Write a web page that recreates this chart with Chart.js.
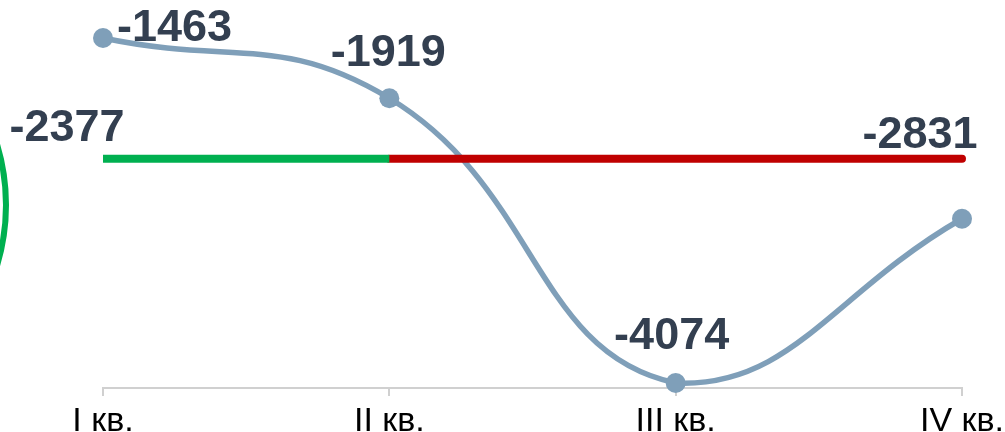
<!DOCTYPE html>
<html>
<head>
<meta charset="utf-8">
<script src="https://cdn.jsdelivr.net/npm/chart.js@4/dist/chart.umd.min.js"></script>
<style>
html,body{margin:0;padding:0;background:#fff;}
#wrap{position:relative;width:1005px;height:432px;}
</style>
</head>
<body>
<div id="wrap"><canvas id="c"></canvas></div>
<script>
const categories = ['I кв.', 'II кв.', 'III кв.', 'IV кв.'];
const quarterValues = [-1463, -1919, -4074, -2831];
const referenceValue = -2377;
const greenSegment = [referenceValue, referenceValue, null, null];
const redSegment = [null, referenceValue, referenceValue, referenceValue];
const yMin = -4112;
const yMax = -1251;

const labelColor = '#333f50';
const labelFont = 'bold 45px "Liberation Sans", Arial, sans-serif';

const decorPlugin = {
  id: 'decor',
  beforeDraw(chart) {
    const ctx = chart.ctx;
    ctx.save();
    ctx.fillStyle = '#fff';
    ctx.fillRect(0, 0, chart.width, chart.height);
    ctx.beginPath();
    ctx.arc(-203, 205, 209, -0.36, 0.36);
    ctx.strokeStyle = '#00b050';
    ctx.lineWidth = 6;
    ctx.stroke();
    ctx.restore();
  },
  afterDatasetsDraw(chart) {
    const ctx = chart.ctx;
    const main = chart.getDatasetMeta(2).data;
    const ref = chart.getDatasetMeta(1).data;
    ctx.save();
    ctx.font = labelFont;
    ctx.fillStyle = labelColor;
    ctx.textBaseline = 'middle';
    ctx.textAlign = 'left';
    ctx.fillText(String(quarterValues[0]), main[0].x + 14, main[0].y - 9);
    ctx.textAlign = 'center';
    ctx.fillText(String(quarterValues[1]), main[1].x - 1, main[1].y - 45);
    ctx.fillText(String(quarterValues[2]), main[2].x - 4, main[2].y - 46);
    ctx.fillText(String(quarterValues[3]), ref[3].x - 42, ref[3].y - 23);
    const g = chart.getDatasetMeta(0).data;
    ctx.fillText(String(referenceValue), g[0].x - 36, g[0].y - 30);
    ctx.restore();
  }
};

new Chart(document.getElementById('c'), {
  type: 'line',
  data: {
    labels: categories,
    datasets: [
      {
        data: greenSegment,
        borderColor: '#00b050',
        borderWidth: 8,
        pointRadius: 0,
        tension: 0,
        spanGaps: false
      },
      {
        data: redSegment,
        borderColor: '#c00000',
        borderWidth: 8,
        borderCapStyle: 'round',
        pointRadius: 0,
        tension: 0,
        spanGaps: false
      },
      {
        data: quarterValues,
        borderColor: '#7f9fb9',
        borderWidth: 5.5,
        pointRadius: 10,
        pointBackgroundColor: '#7f9fb9',
        pointBorderWidth: 0,
        tension: 0.45
      },
      {
        data: quarterValues,
        showLine: false,
        pointRadius: 3.5,
        pointBackgroundColor: '#5b9bd5',
        pointBorderWidth: 0
      }
    ]
  },
  options: {
    responsive: true,
    maintainAspectRatio: false,
    animation: false,
    clip: false,
    layout: { padding: { left: 103, right: 43, top: 0, bottom: 0 } },
    plugins: { legend: { display: false }, tooltip: { enabled: false } },
    scales: {
      x: {
        offset: false,
        afterFit(scale) { scale.height = 44; scale.paddingLeft = 0; scale.paddingRight = 0; },
        border: { display: true, color: '#d0d0d0', width: 2 },
        grid: { display: true, drawOnChartArea: false, drawTicks: true, tickLength: 8, color: '#d0d0d0', lineWidth: 2 },
        ticks: {
          color: '#000',
          padding: 5,
          maxRotation: 0,
          autoSkip: false,
          font: { family: '"Liberation Sans", Arial, sans-serif', size: 34 }
        }
      },
      y: {
        display: false,
        min: yMin,
        max: yMax
      }
    }
  },
  plugins: [decorPlugin]
});
</script>
</body>
</html>
